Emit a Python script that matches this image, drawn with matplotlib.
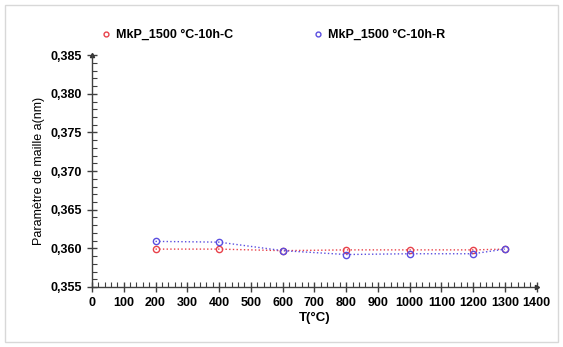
import matplotlib.pyplot as plt
from matplotlib.patches import Rectangle
from matplotlib.ticker import MultipleLocator, FuncFormatter

# data
temps = [200, 400, 600, 800, 1000, 1200, 1300]
a_c = [0.3599, 0.3599, 0.3597, 0.3598, 0.3598, 0.3598, 0.3599]
a_r = [0.3609, 0.3608, 0.3597, 0.3592, 0.3593, 0.3593, 0.3599]
labels = ["MkP_1500 °C-10h-C", "MkP_1500 °C-10h-R"]

plt.rcParams["font.family"] = ["Liberation Sans", "DejaVu Sans"]

fig = plt.figure(figsize=(5.63, 3.47), dpi=100)
ax = fig.add_axes([0.1634, 0.173, 0.790, 0.668])

# light frame round the whole figure
fig.patches.append(Rectangle((0.009, 0.014), 0.982, 0.972, transform=fig.transFigure,
                             fill=False, edgecolor="#d8d8d8", linewidth=1))

red = "#e8414a"
blue = "#5a4ee0"
ax.plot(temps, a_c, linestyle=":", color=red, linewidth=1, marker="o", markersize=4.5,
        markerfacecolor="none", markeredgecolor=red, markeredgewidth=1, label=labels[0])
ax.plot(temps, a_r, linestyle=":", color=blue, linewidth=1, marker="o", markersize=4.5,
        markerfacecolor="none", markeredgecolor=blue, markeredgewidth=1, label=labels[1])

ax.set_xlim(0, 1400)
ax.set_ylim(0.355, 0.385)
ax.xaxis.set_major_locator(MultipleLocator(100))
ax.xaxis.set_minor_locator(MultipleLocator(20))
ax.yaxis.set_major_locator(MultipleLocator(0.005))
ax.yaxis.set_minor_locator(MultipleLocator(0.001))
ax.yaxis.set_major_formatter(FuncFormatter(lambda v, p: f"{v:.3f}".replace(".", ",")))

for s in ["top", "right"]:
    ax.spines[s].set_visible(False)
for s in ["left", "bottom"]:
    ax.spines[s].set_color("#404040")
    ax.spines[s].set_linewidth(1)

ax.tick_params(which="major", direction="inout", length=7, width=1, color="#404040",
               labelsize=9, pad=4)
ax.tick_params(which="minor", direction="in", length=3.5, width=0.8, color="#404040")
for lab in ax.get_xticklabels() + ax.get_yticklabels():
    lab.set_fontweight("bold")

# arrow heads at axis ends
ax.plot(0, 1, marker="^", color="#303030", markersize=3, transform=ax.transAxes, clip_on=False)
ax.plot(1, 0, marker=">", color="#303030", markersize=3, transform=ax.transAxes, clip_on=False)

ax.set_xlabel("T(°C)", fontsize=9.5, fontweight="bold", labelpad=2)
ax.set_ylabel("Paramètre de maille a(nm)", fontsize=9, labelpad=4)

leg = fig.legend(loc="upper left", bbox_to_anchor=(0.163, 0.948), ncol=2, frameon=False,
                 prop={"size": 9, "weight": "bold"}, handlelength=0.5, handletextpad=0.5,
                 columnspacing=6.6)
for h in leg.legend_handles:
    h.set_linestyle("none")
    h.set_markersize(3.5)

fig.savefig("out.png", dpi=100)
